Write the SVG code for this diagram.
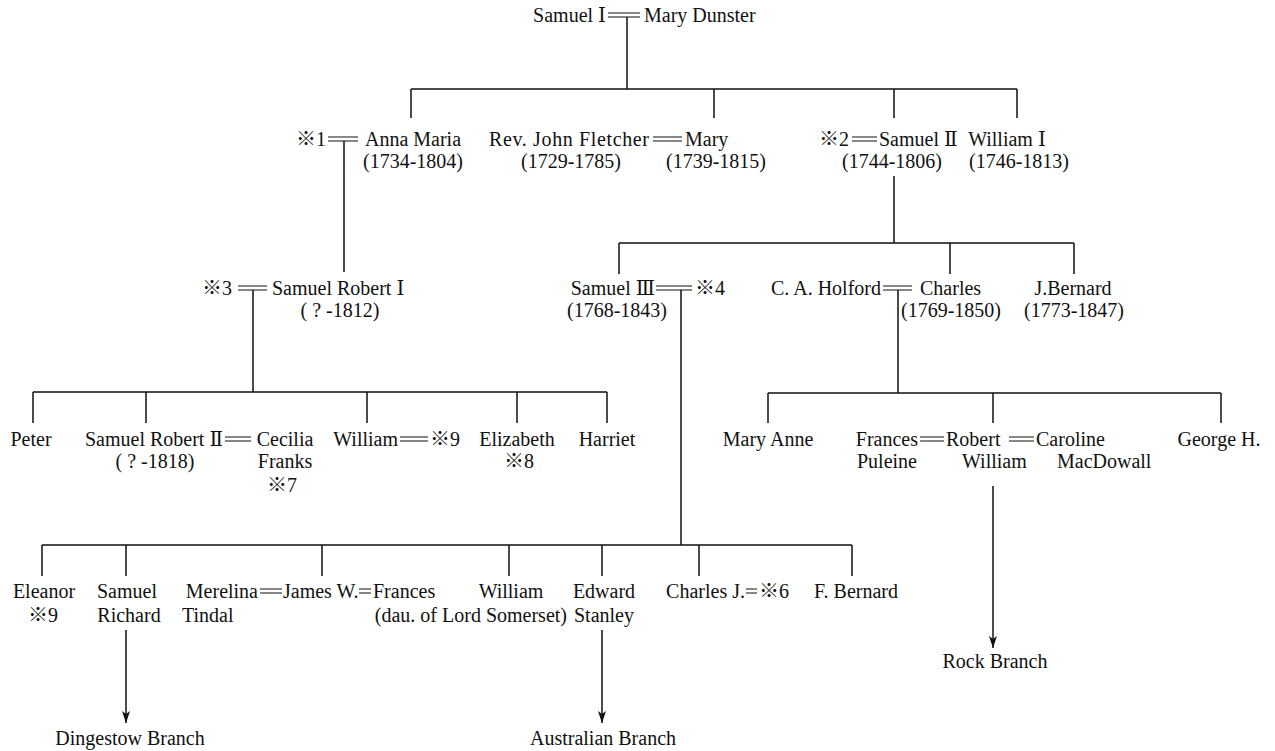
<svg xmlns="http://www.w3.org/2000/svg" width="1275" height="751" viewBox="0 0 1275 751">
<style>
.t{font-family:'Liberation Serif','DejaVu Serif','Noto Sans CJK JP',serif;font-size:20px;fill:#111}
.m{text-anchor:middle}
.e{text-anchor:end}
.c{stroke:#111;stroke-width:1.5;fill:none}
.d{stroke:#111;stroke-width:1.2;fill:none}
</style>
<defs>
<marker id="arr" viewBox="0 0 8 12" refX="4" refY="12" markerWidth="8" markerHeight="12" markerUnits="userSpaceOnUse" orient="0">
<path d="M0,0 L4,3 L8,0 L4,12 z" fill="#111"/>
</marker>
</defs>
<rect width="1275" height="751" fill="#fff"/>
<g id="connectors">
<path class="d" d="M608,13H640M608,17H640"/>
<path class="c" d="M627,17V89M411,89H1017M411,89V118M714,89V118M894,89V118M1017,89V118"/>
<path class="d" d="M328,137H358M328,141H358M653,137H682M653,141H682M852,137H877M852,141H877"/>
<path class="c" d="M344,141V272M894,176V243M619,243H1074M619,243V274M950,243V274M1074,243V274"/>
<path class="d" d="M238,286H267M238,290H267M656,286H692M656,290H692M883,286H912M883,290H912"/>
<path class="c" d="M253,290V392M681,290V545M898,290V393"/>
<path class="c" d="M33,392H607M33,392V423M146,392V423M367,392V423M517,392V423M607,392V423"/>
<path class="c" d="M768,393H1221M768,393V423M993,393V423M1221,393V423"/>
<path class="d" d="M225,437H251M225,441H251M400,437H428M400,441H428M920,437H944M920,441H944M1009,437H1034M1009,441H1034"/>
<path class="c" d="M42,545H852M42,545V576M126,545V576M322,545V576M509,545V576M602,545V576M699,545V576M852,545V576"/>
<path class="d" d="M260,589H282M260,593H282M359,589H371M359,593H371M746,589H757M746,593H757"/>
<path class="c" d="M126,630V723" marker-end="url(#arr)"/>
<path class="c" d="M602,630V723" marker-end="url(#arr)"/>
<path class="c" d="M993,486V648" marker-end="url(#arr)"/>
</g>
<g id="n-samuel1"><text class="t e" x="606" y="22">Samuel Ⅰ</text></g>
<g id="n-mary-dunster"><text class="t" x="644" y="22">Mary Dunster</text></g>
<g id="n-ref1"><text class="t e" x="326" y="146">※1</text></g>
<g id="n-anna-maria"><text class="t m" x="413" y="146">Anna Maria</text><text class="t m" x="413" y="168">(1734-1804)</text></g>
<g id="n-fletcher"><text class="t" x="489" y="146" textLength="160">Rev. John Fletcher</text><text class="t m" x="571" y="168">(1729-1785)</text></g>
<g id="n-mary"><text class="t" x="685" y="146">Mary</text><text class="t m" x="716" y="168">(1739-1815)</text></g>
<g id="n-ref2"><text class="t e" x="849" y="146">※2</text></g>
<g id="n-samuel2"><text class="t" x="879" y="146">Samuel Ⅱ</text><text class="t m" x="892" y="168">(1744-1806)</text></g>
<g id="n-william1"><text class="t m" x="1007" y="146">William Ⅰ</text><text class="t m" x="1019" y="168">(1746-1813)</text></g>
<g id="n-ref3"><text class="t e" x="232" y="295">※3</text></g>
<g id="n-samuel-robert1"><text class="t" x="272" y="295">Samuel Robert Ⅰ</text><text class="t m" x="340" y="317">( ? -1812)</text></g>
<g id="n-samuel3"><text class="t e" x="655" y="295">Samuel Ⅲ</text><text class="t m" x="617" y="317">(1768-1843)</text></g>
<g id="n-ref4"><text class="t" x="695" y="295">※4</text></g>
<g id="n-holford"><text class="t e" x="881" y="295">C. A. Holford</text></g>
<g id="n-charles"><text class="t" x="920" y="295">Charles</text><text class="t m" x="951" y="317">(1769-1850)</text></g>
<g id="n-jbernard"><text class="t m" x="1073" y="295">J.Bernard</text><text class="t m" x="1074" y="317">(1773-1847)</text></g>
<g id="n-peter"><text class="t m" x="31" y="446">Peter</text></g>
<g id="n-samuel-robert2"><text class="t e" x="223" y="446">Samuel Robert Ⅱ</text><text class="t m" x="155" y="468">( ? -1818)</text></g>
<g id="n-cecilia"><text class="t m" x="285" y="446">Cecilia</text><text class="t m" x="285" y="468">Franks</text><text class="t m" x="282" y="492">※7</text></g>
<g id="n-william-sr"><text class="t e" x="398" y="446">William</text></g>
<g id="n-ref9a"><text class="t" x="430" y="446">※9</text></g>
<g id="n-elizabeth"><text class="t m" x="517" y="446">Elizabeth</text><text class="t m" x="519" y="468">※8</text></g>
<g id="n-harriet"><text class="t m" x="607" y="446">Harriet</text></g>
<g id="n-mary-anne"><text class="t m" x="768" y="446">Mary Anne</text></g>
<g id="n-frances-puleine"><text class="t e" x="918" y="446">Frances</text><text class="t" x="857" y="468">Puleine</text></g>
<g id="n-robert-william"><text class="t" x="946" y="446">Robert</text><text class="t" x="962" y="468">William</text></g>
<g id="n-caroline"><text class="t" x="1036" y="446">Caroline</text><text class="t" x="1057" y="468">MacDowall</text></g>
<g id="n-george"><text class="t m" x="1219" y="446">George H.</text></g>
<g id="n-eleanor"><text class="t m" x="44" y="598">Eleanor</text><text class="t m" x="43" y="622">※9</text></g>
<g id="n-samuel-richard"><text class="t m" x="127" y="598">Samuel</text><text class="t m" x="129" y="622">Richard</text></g>
<g id="n-merelina"><text class="t e" x="258" y="598">Merelina</text><text class="t" x="182" y="622">Tindal</text></g>
<g id="n-james"><text class="t" x="283" y="598">James W.</text></g>
<g id="n-frances-somerset"><text class="t" x="373" y="598">Frances</text><text class="t e" x="567" y="622">(dau. of Lord Somerset)</text></g>
<g id="n-william-jr"><text class="t m" x="511" y="598">William</text></g>
<g id="n-edward"><text class="t m" x="604" y="598">Edward</text><text class="t m" x="604" y="622">Stanley</text></g>
<g id="n-charles-j"><text class="t e" x="745" y="598">Charles J.</text></g>
<g id="n-ref6"><text class="t" x="759" y="598">※6</text></g>
<g id="n-fbernard"><text class="t m" x="856" y="598">F. Bernard</text></g>
<g id="n-dingestow"><text class="t m" x="130" y="745">Dingestow Branch</text></g>
<g id="n-australian"><text class="t m" x="603" y="745">Australian Branch</text></g>
<g id="n-rock"><text class="t m" x="995" y="668">Rock Branch</text></g>
</svg>
